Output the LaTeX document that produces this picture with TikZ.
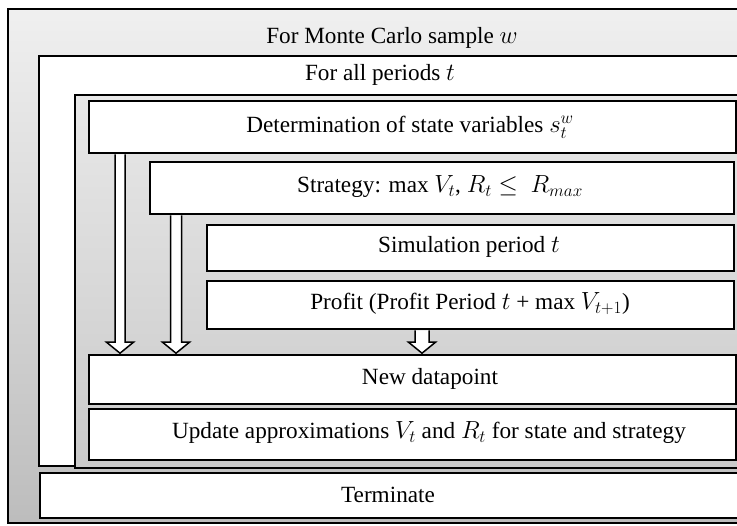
\documentclass[tikz,border=0pt]{standalone}
\usepackage{fontspec}
\setmainfont{Liberation Serif}
\usetikzlibrary{calc}
\tikzset{
  container/.style={draw, line width=1.6bp, anchor=north west, inner sep=0pt},
  box/.style={draw, line width=1.6bp, fill=white, anchor=north west, inner sep=0pt},
  lbl/.style={font=\fontsize{23.3}{27}\selectfont, inner sep=0pt, anchor=center},
  blockarrow/.style={draw, line width=1.5bp, fill=white, line join=miter}
}
\newcommand\blockarr[3]{%
  \draw[blockarrow] let \p1=(#1), \p2=(#2) in
    (\x1-#3,\y1-0.8bp) -- (\x1-#3,\y2+11.8bp) -- (\x1-13.5bp,\y2+11.8bp) --
    (\x1,\y2+0.8bp) -- (\x1+13.5bp,\y2+11.8bp) -- (\x1+#3,\y2+11.8bp) --
    (\x1+#3,\y1-0.8bp);}
\begin{document}
\begin{tikzpicture}[x=1bp,y=-1bp]
\useasboundingbox (0,0) rectangle (737,526);
\clip (0,0) rectangle (737,526);
% containers
\node[container, top color=gray!12, bottom color=gray!52, minimum width=800bp, minimum height=514bp] (mc) at (7,8) {};
\node[container, fill=white, minimum width=800bp, minimum height=410bp] (per) at (38,55) {};
\node[container, top color=gray!18, bottom color=gray!42, minimum width=800bp, minimum height=373bp] (inner) at (74,94) {};
% boxes
\node[box, minimum width=647bp, minimum height=52bp] (det) at (88,100) {};
\node[box, minimum width=584bp, minimum height=52bp] (strat) at (149,161) {};
\node[box, minimum width=527bp, minimum height=46bp] (sim) at (206,224) {};
\node[box, minimum width=527bp, minimum height=48bp] (prof) at (206,280) {};
\node[box, minimum width=647bp, minimum height=49bp] (newdp) at (88,354) {};
\node[box, minimum width=647bp, minimum height=51bp] (upd) at (88,408) {};
\node[box, minimum width=800bp, minimum height=45bp] (term) at (39,472) {};
% labels
\node[lbl] (tmc) at (392,38) {For Monte Carlo sample $w$};
\node[lbl] (tper) at (380,75) {For all periods $t$};
\node[lbl] (tdet) at (410,127) {Determination of state variables $s^{w}_{t}$};
\node[lbl] (tstrat) at (440,187) {Strategy: max $V_t$, $R_t \leq\ R_{max}$};
\node[lbl] (tsim) at (469,247) {Simulation period $t$};
\node[lbl] (tprof) at (470,304) {Profit (Profit Period $t$ + max $V_{t+1}$)};
\node[lbl] (tnew) at (430,379) {New datapoint};
\node[lbl] (tupd) at (429,433) {Update approximations $V_t$ and $R_t$ for state and strategy};
\node[lbl] (tterm) at (388,495) {Terminate};
% arrows
\coordinate (xa) at (120,0);
\coordinate (xb) at (176,0);
\coordinate (xc) at (422,0);
\blockarr{det.south -| xa}{newdp.north -| xa}{5bp}
\blockarr{strat.south -| xb}{newdp.north -| xb}{5.5bp}
\blockarr{prof.south -| xc}{newdp.north -| xc}{7bp}
\end{tikzpicture}
\end{document}
